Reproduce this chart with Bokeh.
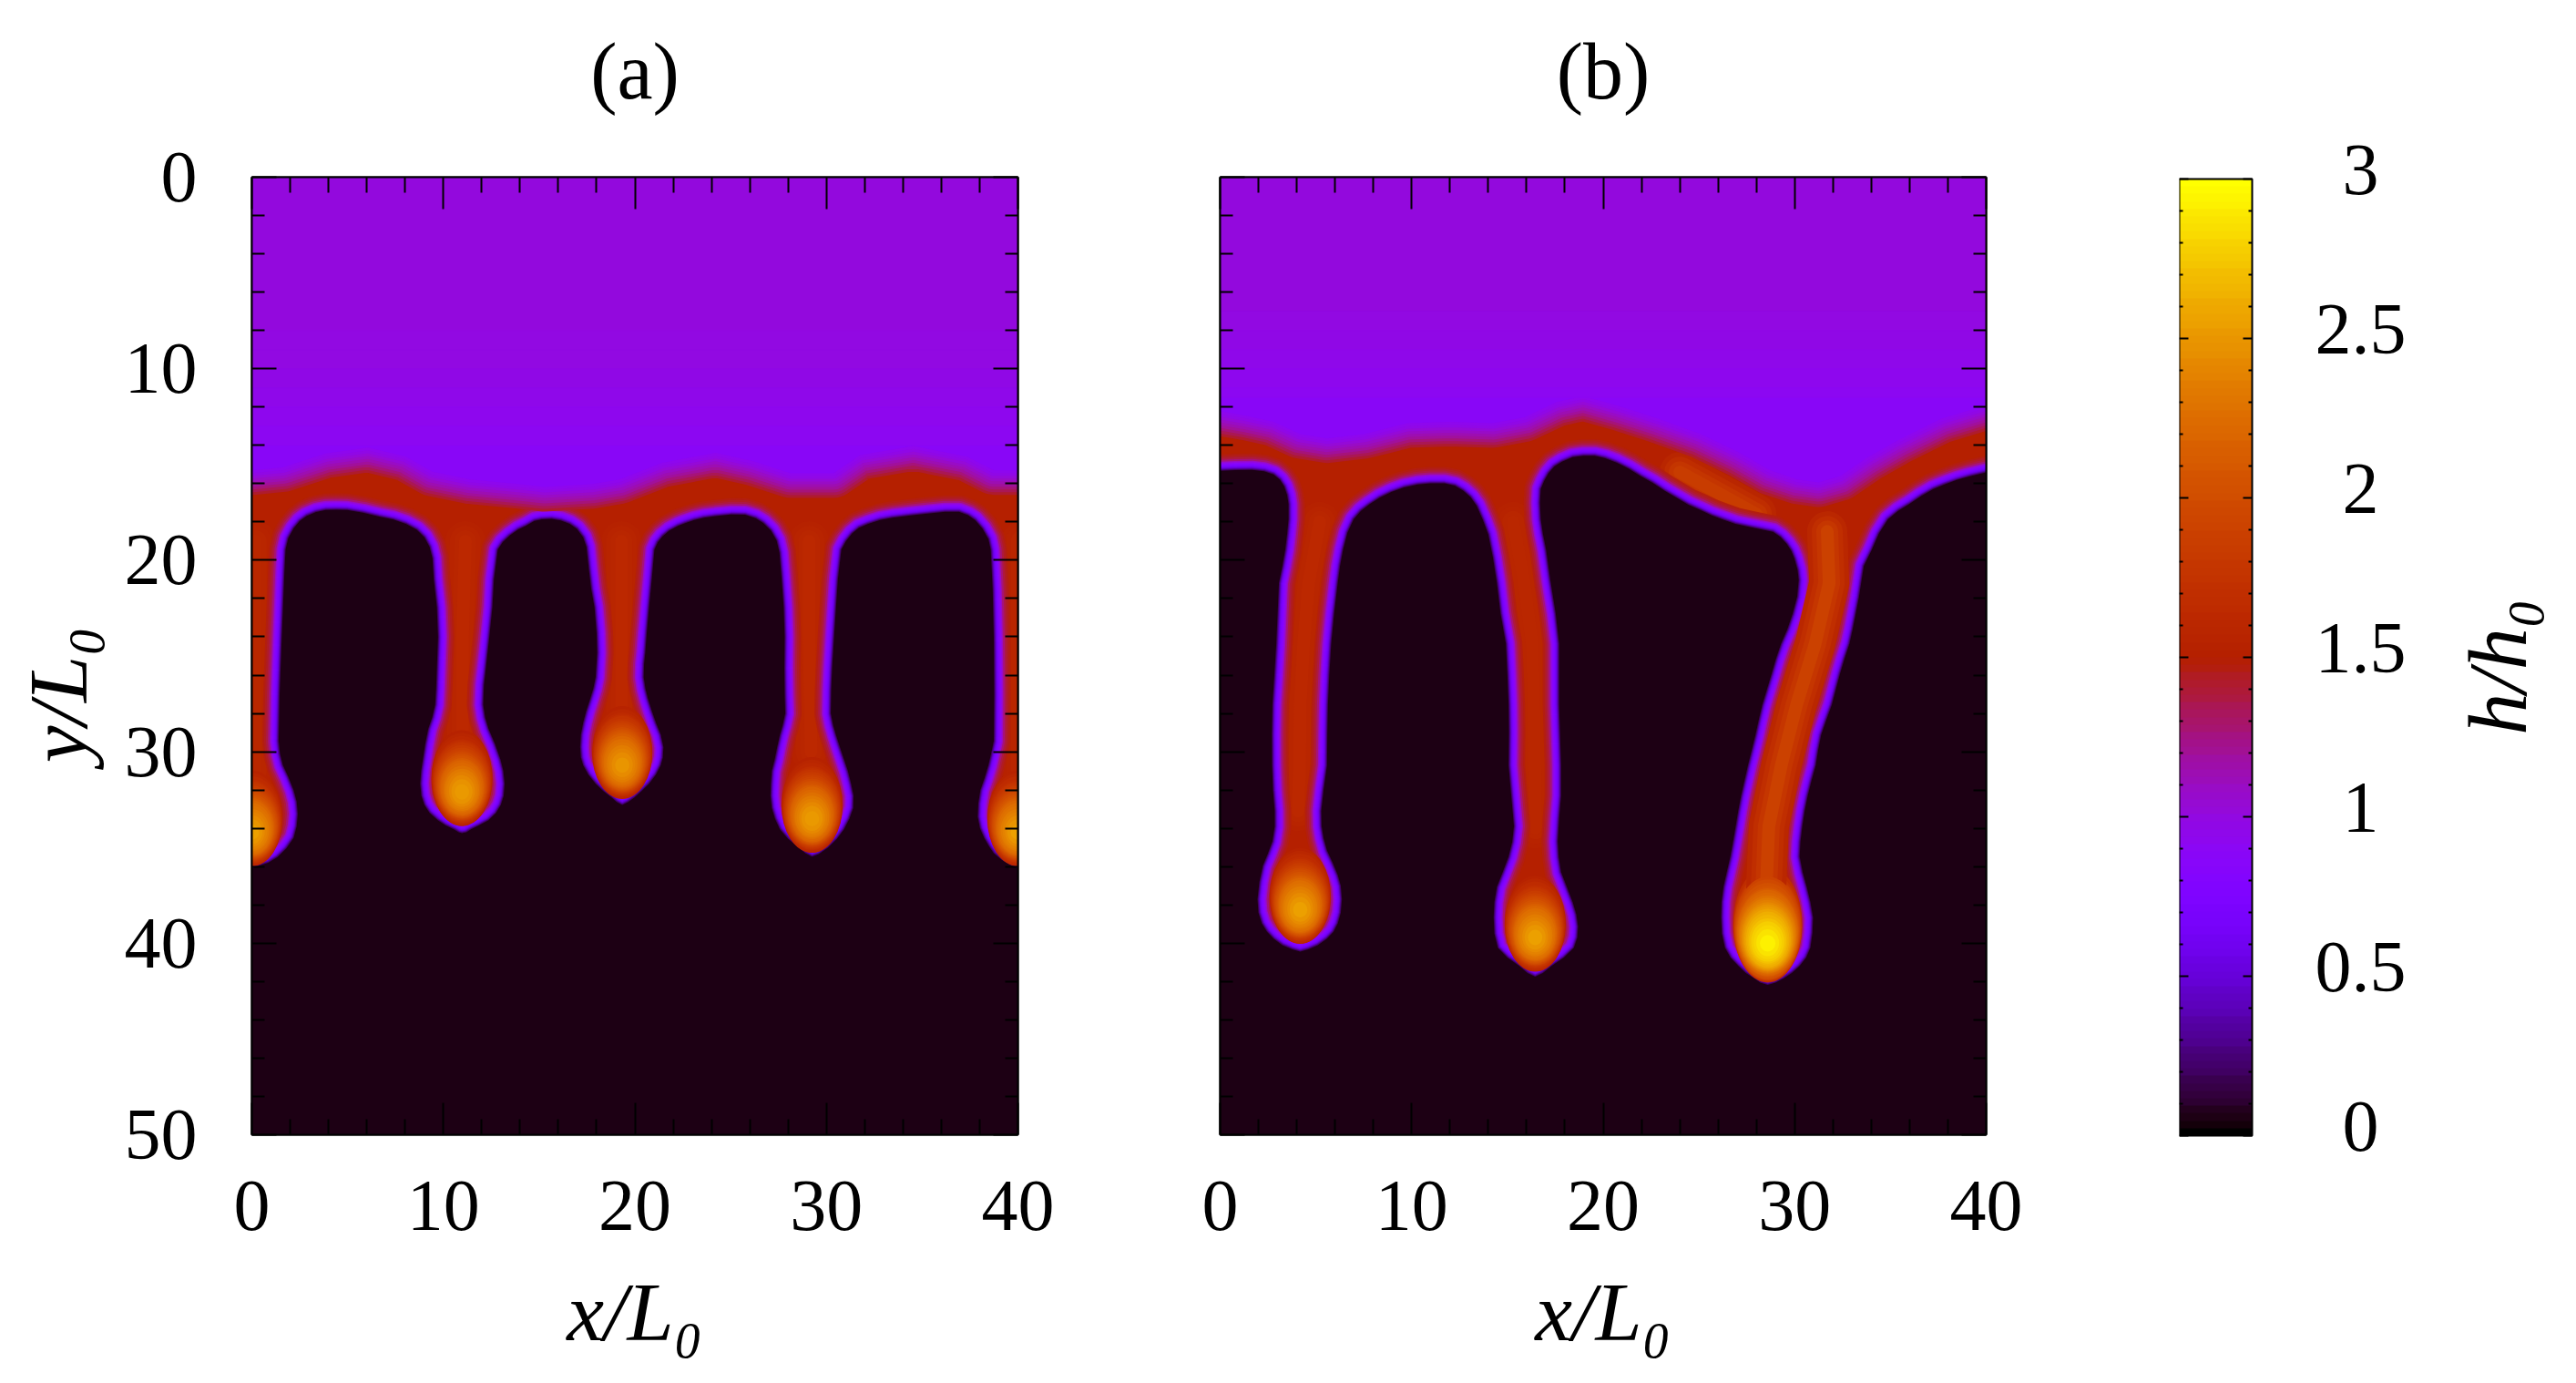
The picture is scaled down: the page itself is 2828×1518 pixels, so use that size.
import math
import numpy as np
from bokeh.embed import file_html
from bokeh.resources import INLINE
from bokeh.layouts import column, row
from bokeh.models import (ColumnDataSource, FixedTicker, Label, LinearAxis, LinearColorMapper, Range1d)
from bokeh.plotting import figure

# ---------- chart values ----------
x_ticks = [0, 10, 20, 30, 40]
x_minor = [2, 4, 6, 8, 12, 14, 16, 18, 22, 24, 26, 28, 32, 34, 36, 38]
y_ticks = [0, 10, 20, 30, 40, 50]
y_minor = [2, 4, 6, 8, 12, 14, 16, 18, 22, 24, 26, 28, 32, 34, 36, 38, 42, 44, 46, 48]
cb_ticks = [0, 0.5, 1, 1.5, 2, 2.5, 3]
cb_tick_labels = ["0", "0.5", "1", "1.5", "2", "2.5", "3"]
cb_minor = [0.1, 0.2, 0.3, 0.4, 0.6, 0.7, 0.8, 0.9, 1.1, 1.2, 1.3, 1.4, 1.6, 1.7, 1.8, 1.9, 2.1, 2.2, 2.3, 2.4, 2.6, 2.7, 2.8, 2.9]

# film height above the front: row edges in y and h/h0 in each row
a_row_y = [0, 8, 9, 10, 11, 12, 13, 14]
a_row_h = [1.0, 0.99, 0.98, 0.97, 0.95, 0.93, 0.91]
b_row_y = [0, 7, 8, 9, 10, 11, 11.5]
b_row_h = [1.0, 0.99, 0.97, 0.95, 0.93, 0.91]

# contour (h about 1.4) along the top of the capillary ridge
a_ridge_x = [-1, 0, 1.62, 3.85, 6.08, 8.04, 9.43, 11.39, 13.9, 15.3, 17.8, 19.2, 21.43, 24.22, 26.18, 28.13, 30.37, 31.76, 34.55, 37.34, 38.74, 40, 41]
a_ridge_y = [16.6, 16.6, 16.44, 15.72, 15.41, 15.88, 16.67, 17.07, 17.31, 17.47, 17.31, 17.07, 16.2, 15.68, 16.12, 16.75, 16.75, 15.8, 15.33, 15.88, 16.6, 16.6, 16.6]
b_ridge_x = [-1, 0, 1.39, 2.79, 4.18, 5.58, 7.53, 9.76, 11.99, 14.23, 15.9, 17.57, 18.97, 20.92, 22.87, 25.1, 27.06, 28.73, 30.13, 31.24, 32.36, 33.75, 35.42, 37.66, 40, 41]
b_ridge_y = [13.51, 13.51, 13.75, 14.06, 14.7, 14.93, 14.7, 14.14, 14.06, 14.14, 13.82, 13.03, 12.72, 13.27, 13.9, 14.7, 15.65, 16.6, 17.07, 17.23, 16.91, 15.96, 15.01, 13.9, 13.19, 13.19]

# edge of the wet region (x, y), running from the left side to the right side
a_front = [(-1,36.1),(0,36.1),(0.36,35.95),(0.85,35.8),(1.34,35.5),(1.8,35.05),(2.18,34.5),(2.34,33.9),(2.40,33.25),(2.34,32.6),(2.18,32.0),(1.9,31.3),(1.62,30.7),(1.47,30.1),(1.40,29.44),(1.45,27),(1.56,24.05),(1.62,22.6),(1.7,20.6),(1.76,19.45),(1.9,18.85),(2.18,18.34),(2.5,17.95),(2.87,17.68),(3.35,17.48),(3.85,17.38),(4.4,17.36),(4.97,17.38),(5.8,17.52),(6.64,17.72),(7.4,17.88),(8.04,18.1),(8.6,18.4),(9.01,18.8),(9.28,19.3),(9.43,19.9),(9.5,21),(9.66,22.46),(9.72,24),(9.66,25.63),(9.62,26.7),(9.57,27.54),(9.42,28.2),(9.21,28.8),(9.05,29.6),(8.93,30.4),(8.84,31.0),(8.79,31.67),(8.85,32.3),(9.01,32.78),(9.28,33.2),(9.71,33.57),(10.12,33.85),(10.55,34.05),(10.8,34.2),(10.97,34.25),(11.2,34.2),(11.44,34.05),(11.85,33.85),(12.36,33.57),(12.75,33.2),(13.0,32.78),(13.15,32.3),(13.2,31.67),(13.13,31.0),(12.98,30.4),(12.7,29.6),(12.36,28.8),(12.18,28.2),(12.08,27.54),(12.12,26.5),(12.22,25.63),(12.4,24),(12.56,22.46),(12.64,21),(12.84,19.45),(13.1,19.05),(13.48,18.7),(13.9,18.4),(14.32,18.2),(14.75,17.95),(15.15,17.86),(15.65,17.84),(16.13,17.92),(16.6,18.1),(16.97,18.36),(17.3,18.8),(17.47,19.3),(17.6,20.5),(17.72,21.5),(17.89,22.46),(18.0,23.8),(18.03,24.84),(17.95,26.11),(17.83,26.7),(17.67,27.22),(17.45,27.9),(17.3,28.49),(17.18,29.1),(17.14,29.76),(17.18,30.3),(17.3,30.71),(17.57,31.2),(17.95,31.67),(18.35,32.05),(18.78,32.38),(19.05,32.62),(19.34,32.78),(19.65,32.62),(19.98,32.38),(20.35,32.05),(20.74,31.67),(21.1,31.2),(21.35,30.71),(21.46,30.3),(21.49,29.76),(21.35,29.1),(21.1,28.49),(20.88,27.85),(20.68,27.22),(20.55,26.7),(20.46,26.11),(20.48,25.4),(20.54,24.84),(20.62,23.8),(20.74,22.46),(20.88,21),(21.02,19.45),(21.2,19.05),(21.44,18.75),(21.8,18.45),(22.27,18.2),(22.65,18.05),(23.1,17.9),(23.6,17.78),(24.2,17.7),(25.0,17.62),(25.76,17.63),(26.3,17.8),(26.7,18.05),(27.1,18.45),(27.4,18.97),(27.55,19.6),(27.65,20.8),(27.77,22.46),(27.82,24),(27.8,25.63),(27.82,27),(27.85,28.0),(27.72,28.6),(27.57,29.13),(27.42,29.8),(27.3,30.4),(27.15,31.0),(27.1,31.67),(27.08,32.3),(27.15,32.94),(27.32,33.5),(27.57,34.05),(28.0,34.55),(28.55,35.0),(28.9,35.3),(29.25,35.48),(29.6,35.35),(30.09,35.0),(30.55,34.55),(30.92,34.05),(31.2,33.5),(31.4,32.94),(31.42,32.3),(31.29,31.67),(31.12,31.0),(30.92,30.4),(30.7,29.75),(30.5,29.13),(30.35,28.6),(30.23,28.0),(30.25,26.8),(30.3,25.63),(30.4,24),(30.5,22.46),(30.6,21),(30.78,19.45),(31.02,19.0),(31.34,18.6),(31.7,18.3),(32.18,18.1),(32.8,17.9),(33.44,17.78),(34.4,17.66),(35.39,17.55),(36.2,17.47),(36.92,17.47),(37.4,17.65),(37.76,17.9),(38.15,18.35),(38.46,18.9),(38.58,19.45),(38.68,21.5),(38.74,24.05),(38.76,27),(38.74,29.44),(38.6,30.1),(38.46,30.7),(38.25,31.4),(38.04,32.0),(37.93,32.7),(37.9,33.4),(38.02,34.0),(38.24,34.5),(38.5,34.95),(38.74,35.3),(39.15,35.65),(39.57,35.9),(40,36.1),(41,36.1),(41,51),(-1,51),(-1,36.1)]
b_front = [(-1,15.33),(0,15.33),(0.8,15.3),(1.67,15.28),(2.3,15.35),(2.79,15.52),(3.12,15.8),(3.35,16.15),(3.5,16.6),(3.57,17.07),(3.57,17.86),(3.5,18.6),(3.40,19.45),(3.25,20.3),(3.07,21.19),(3.0,22.8),(2.93,24.36),(2.83,26),(2.73,27.54),(2.7,29.1),(2.71,30.71),(2.76,32),(2.85,33.1),(2.85,33.9),(2.73,34.68),(2.5,35.3),(2.23,35.95),(2.05,36.8),(1.95,37.7),(2.0,38.4),(2.18,38.97),(2.45,39.4),(2.79,39.76),(3.25,40.1),(3.77,40.32),(4.18,40.44),(4.6,40.32),(5.1,40.1),(5.58,39.76),(5.92,39.4),(6.14,38.97),(6.3,38.4),(6.36,37.7),(6.3,37.0),(6.14,36.43),(5.88,35.8),(5.58,35.16),(5.4,34.5),(5.3,33.89),(5.28,33.1),(5.4,32),(5.58,30.71),(5.6,29),(5.63,27.54),(5.7,26),(5.8,24.36),(5.95,22.8),(6.14,21.19),(6.26,20.3),(6.42,19.45),(6.65,18.55),(6.97,17.86),(7.35,17.42),(7.81,17.07),(8.35,16.72),(8.93,16.44),(9.6,16.2),(10.32,16.04),(11.0,15.98),(11.72,15.99),(12.25,16.1),(12.69,16.36),(13.07,16.7),(13.39,17.15),(13.72,17.9),(14.0,18.65),(14.25,19.9),(14.45,21.19),(14.64,22.78),(14.92,24.36),(15.0,26),(15.06,27.54),(15.08,29),(15.06,30.71),(15.2,32.3),(15.34,33.89),(15.25,34.7),(15.06,35.48),(14.75,36.3),(14.45,37.06),(14.32,37.85),(14.28,38.65),(14.32,39.5),(14.5,40.24),(15.0,40.75),(15.62,41.19),(16.05,41.55),(16.45,41.75),(16.85,41.55),(17.3,41.19),(17.95,40.75),(18.47,40.24),(18.65,39.7),(18.69,39.13),(18.6,38.5),(18.41,37.86),(18.1,37.05),(17.8,36.27),(17.68,35.5),(17.63,34.68),(17.7,33.5),(17.8,32.3),(17.8,30.71),(17.75,29.1),(17.7,27.54),(17.7,24.36),(17.52,22.78),(17.24,21.03),(17.02,19.45),(16.85,18.6),(16.74,17.86),(16.7,17.0),(16.74,16.28),(16.92,15.85),(17.15,15.45),(17.45,15.1),(17.85,14.85),(18.4,14.62),(18.97,14.54),(19.55,14.54),(20.08,14.66),(20.7,14.9),(21.34,15.22),(21.95,15.6),(22.59,15.96),(23.22,16.38),(23.85,16.75),(24.45,17.1),(25.1,17.39),(25.65,17.65),(26.22,17.86),(26.9,18.1),(27.61,18.26),(28.3,18.4),(28.87,18.52),(29.25,18.78),(29.57,19.13),(29.82,19.5),(29.99,19.92),(30.15,20.5),(30.21,21.03),(30.13,21.9),(29.9,22.78),(29.62,23.6),(29.29,24.36),(29.02,25.15),(28.79,25.95),(28.55,26.75),(28.31,27.54),(28.12,28.35),(27.95,29.13),(27.75,29.95),(27.56,30.71),(27.38,31.5),(27.2,32.3),(27.05,33.1),(26.92,33.89),(26.78,34.7),(26.64,35.48),(26.45,36.3),(26.28,37.06),(26.18,37.85),(26.16,38.65),(26.2,39.5),(26.36,40.24),(26.65,40.75),(27.06,41.19),(27.45,41.55),(27.89,41.83),(28.2,42.05),(28.59,42.17),(29.0,42.05),(29.43,41.83),(29.85,41.55),(30.26,41.19),(30.6,40.75),(30.82,40.24),(30.93,39.45),(30.96,38.65),(30.82,37.85),(30.63,37.06),(30.42,36.3),(30.26,35.48),(30.3,34.7),(30.4,33.89),(30.52,33.1),(30.68,32.3),(30.88,31.5),(31.1,30.71),(31.22,29.95),(31.38,29.13),(31.65,28.35),(31.94,27.54),(32.15,26.75),(32.36,25.95),(32.6,25.15),(32.86,24.36),(33.03,23.6),(33.19,22.78),(33.35,21.95),(33.47,21.19),(33.61,20.3),(34.03,19.45),(34.4,18.6),(34.87,17.86),(35.4,17.42),(35.98,17.07),(36.6,16.65),(37.24,16.28),(37.85,16.03),(38.49,15.8),(39.2,15.6),(40,15.41),(41,15.41),(41,51),(-1,51),(-1,15.33)]

# ridge of each finger: centre lines and the largest h/h0 along them
a_core_x = [[-1, 0.2, 0.2], [11.15, 11.0, 11.0], [19.3, 19.3, 19.3], [29.1, 29.1, 29.2], [40.2, 40.2, 41]]
a_core_y = [[19, 19, 31], [19, 24, 29], [19, 23, 28], [19, 24, 30], [31, 19, 19]]
a_core_peak = [1.6, 1.62, 1.62, 1.62, 1.6]
a_core_late = []
b_core_x = [[5.2, 4.62, 4.36, 4.18, 4.15, 4.07], [15.3, 15.85, 16.3, 16.38, 16.43, 16.48], [31.7, 31.8, 31.07, 30.1, 29.3, 28.65, 28.5], [24.0, 26.2, 28.0]]
b_core_y = [[18, 21.2, 24.36, 27.54, 30.71, 33.1], [18, 21, 24.4, 27.5, 30.7, 34], [18.5, 21.2, 24.36, 27.54, 30.71, 33.89, 37.5], [15.4, 16.6, 17.6]]
b_core_peak = [1.62, 1.6, 1.9, 1.85]
b_core_late = [2]

# drops: position of the h/h0 maximum, the maximum, relative size
a_drop_x = [0, 10.97, 19.34, 29.25, 40]
a_drop_y = [34.2, 32.1, 30.7, 33.5, 34.2]
a_drop_peak = [2.6, 2.58, 2.55, 2.58, 2.6]
a_drop_size = [1, 1, 1, 1, 1]
b_drop_x = [4.18, 16.45, 28.59]
b_drop_y = [38.25, 39.7, 40.0]
b_drop_peak = [2.6, 2.6, 2.98]
b_drop_size = [1, 1, 1.08]
# contours below the maximum: drop in h/h0, width, height, shift of centre
drop_dh = [1.3, 1.2, 1.1, 1.05, 1.0, 0.95, 0.9, 0.85, 0.8, 0.75, 0.7, 0.65, 0.6, 0.55, 0.5, 0.45, 0.4, 0.35, 0.3, 0.25, 0.2, 0.15, 0.1, 0.05]
drop_w = [3.35, 3.3, 3.25, 3.2, 3.15, 3.1, 3.05, 3.0, 2.95, 2.88, 2.8, 2.73, 2.65, 2.55, 2.45, 2.35, 2.25, 2.1, 1.95, 1.8, 1.6, 1.35, 1.1, 0.75]
drop_l = [5.6, 5.3, 5.1, 5.0, 4.85, 4.65, 4.4, 4.27, 4.15, 3.97, 3.8, 3.65, 3.5, 3.35, 3.2, 3.05, 2.9, 2.7, 2.45, 2.2, 1.95, 1.65, 1.3, 0.8]
drop_s = [0.9, 0.8, 0.75, 0.72, 0.66, 0.6, 0.55, 0.52, 0.5, 0.46, 0.42, 0.38, 0.35, 0.31, 0.28, 0.25, 0.22, 0.18, 0.15, 0.11, 0.08, 0.05, 0.02, 0.0]

# cross-section beyond the wet edge: pixels from the edge and h/h0
halo_px = [18, 16, 14, 12, 10, 9, 8, 7, 6, 5, 4, 3, 2, 1, 0]
halo_h = [1.47, 1.44, 1.38, 1.26, 1.1, 1.0, 0.9, 0.82, 0.75, 0.68, 0.6, 0.47, 0.33, 0.2, 0.047]
# cross-section across the top of the ridge, highest first
ridge_px = [27, 24, 21, 18, 15, 12, 9, 6, 3, 0]
ridge_h = [1.42, 1.34, 1.27, 1.2, 1.14, 1.08, 1.02, 0.97, 0.92, 0.88]
ridge_span = 1.29
base_h = 1.5
core_px = [44, 34, 24, 14]
core_frac = [0.25, 0.5, 0.75, 1.0]

# ---------- style ----------
FONT = "Liberation Serif"
TICK_SIZE = "80px"
LABEL_SIZE = "92px"
TITLE_SIZE = "88px"
TOP_BORDER = 194
HEAD_H = 134
SIDE_W = 120
PAGE_H = 1510

# gnuplot's default pm3d map: sqrt(t), t^3, sin(2 pi t)
palette = []
for t in np.linspace(0, 1, 160):
    r, g, b = math.sqrt(t), t ** 3, max(0.0, math.sin(2 * math.pi * t))
    palette.append("#%02x%02x%02x" % (round(255 * r), round(255 * g), round(255 * b)))
mapper = LinearColorMapper(palette=palette, low=0, high=3)
val = {"field": "h", "transform": mapper}


def axis_style(ax, in_major, in_minor, labels):
    ax.axis_line_color = "black"
    ax.axis_line_width = 2
    ax.major_tick_line_color = "black"
    ax.minor_tick_line_color = "black"
    ax.major_tick_line_width = 2
    ax.minor_tick_line_width = 2
    ax.major_tick_in = in_major
    ax.major_tick_out = 0
    ax.minor_tick_in = in_minor
    ax.minor_tick_out = 0
    ax.major_label_text_font = FONT
    ax.major_label_text_font_size = TICK_SIZE
    ax.major_label_text_color = "black"
    if not labels:
        ax.major_label_overrides = {v: "" for v in list(ax.ticker.ticks)}


def draw_core(p, core_x, core_y, core_peak):
    xs, ys, hs, ws = [], [], [], []
    for f, w in zip(core_frac, core_px):
        for cx, cy, pk in zip(core_x, core_y, core_peak):
            xs.append(cx)
            ys.append(cy)
            hs.append(base_h + (pk - base_h) * f)
            ws.append(w)
    p.multi_line("xs", "ys", source=ColumnDataSource(dict(xs=xs, ys=ys, h=hs, w=ws)),
                 line_color=val, line_width="w", line_join="round", line_cap="round")


def draw_drops(p, levels, drop_x, drop_y, drop_peak, drop_size, low, high):
    ex, ey, ew, el, eh = [], [], [], [], []
    for dh, w, l, s in levels:
        for x, y, pk, sz in zip(drop_x, drop_y, drop_peak, drop_size):
            if not (low <= pk - dh < high):
                continue
            ex.append(x)
            ey.append(y - s * sz)
            ew.append(w * sz)
            el.append(l * sz)
            eh.append(pk - dh)
    p.ellipse("x", "y", width="w", height="l", source=ColumnDataSource(dict(x=ex, y=ey, w=ew, l=el, h=eh)),
              fill_color=val, line_color=None)


def text_strip(frame_w, frame_h, left_border, right_border, x_end, y_end):
    """A plain figure with no axes, which only holds text placed in its own frame."""
    s = figure(frame_width=frame_w, frame_height=frame_h, min_border_left=left_border, min_border_right=right_border,
               min_border_top=0, min_border_bottom=0, x_range=Range1d(0, x_end), y_range=Range1d(0, y_end),
               output_backend="svg", toolbar_location=None)
    s.frame_align = False
    s.grid.visible = False
    s.axis.visible = False
    s.outline_line_color = None
    return s


def panel(row_y, row_h, ridge_x, ridge_y, front, core_x, core_y, core_peak, core_late,
          drop_x, drop_y, drop_peak, drop_size, left_border, right_border, with_y):
    assert len(ridge_x) == len(ridge_y)
    front_x = [q[0] for q in front]
    front_y = [q[1] for q in front]
    p = figure(frame_width=841, frame_height=1051, min_border_left=left_border, min_border_right=right_border,
               min_border_top=TOP_BORDER - HEAD_H, min_border_bottom=264, x_range=Range1d(0, 40), y_range=Range1d(50, 0),
               output_backend="svg", toolbar_location=None)
    p.frame_align = False
    p.grid.visible = False
    p.outline_line_color = "black"
    p.outline_line_width = 2
    p.background_fill_color = "white"

    # wet film
    p.quad(left=-1, right=41, top=-1, bottom=51, fill_color=palette[int(base_h / 3 * 160)], line_color=None)
    draw_core(p, core_x, core_y, core_peak)

    # broad part of the wet edge, stays under the dry-side film
    broad = [i for i, h in enumerate(halo_h) if h >= 1.0]
    narrow = [i for i, h in enumerate(halo_h) if h < 1.0]
    src = ColumnDataSource(dict(xs=[front_x] * len(broad), ys=[front_y] * len(broad),
                                h=[halo_h[i] for i in broad], w=[2 * halo_px[i] for i in broad]))
    p.patches("xs", "ys", source=src, fill_color=val, line_color=val, line_width="w", line_join="round")

    # ridge top: region above the contour, widened by the stroke
    rx = ridge_x + [41, -1]
    ry = [y - ridge_span for y in ridge_y] + [-1, -1]
    n = len(ridge_px)
    src = ColumnDataSource(dict(xs=[rx] * n, ys=[ry] * n, h=ridge_h, w=[2 * d for d in ridge_px]))
    p.patches("xs", "ys", source=src, fill_color=val, line_color=val, line_width="w", line_join="round")

    # film rows
    p.quad(left=-1, right=41, top="t", bottom="b", fill_color=val, line_color=val, line_width=1,
           source=ColumnDataSource(dict(t=row_y[:-1], b=row_y[1:], h=row_h)))

    # narrow part of the wet edge
    src = ColumnDataSource(dict(xs=[front_x] * len(narrow), ys=[front_y] * len(narrow),
                                h=[halo_h[i] for i in narrow], w=[2 * halo_px[i] for i in narrow]))
    p.patches("xs", "ys", source=src, fill_color=val, line_color=val, line_width="w", line_join="round")

    # drops; a strong finger ridge runs over the lowest contours of its drop
    levels = list(zip(drop_dh, drop_w, drop_l, drop_s))
    draw_drops(p, levels, drop_x, drop_y, drop_peak, drop_size, 1.52, 1.9)
    if core_late:
        draw_core(p, [core_x[i] for i in core_late], [core_y[i] for i in core_late], [core_peak[i] for i in core_late])
    draw_drops(p, levels, drop_x, drop_y, drop_peak, drop_size, 1.9, 9)

    # axes
    p.xaxis.ticker = FixedTicker(ticks=x_ticks, minor_ticks=x_minor)
    p.yaxis.ticker = FixedTicker(ticks=y_ticks, minor_ticks=y_minor)
    top = LinearAxis(ticker=FixedTicker(ticks=x_ticks, minor_ticks=x_minor))
    right = LinearAxis(ticker=FixedTicker(ticks=y_ticks, minor_ticks=y_minor))
    p.add_layout(top, "above")
    p.add_layout(right, "right")
    axis_style(top, 35, 17, False)
    axis_style(p.below[0], 35, 17, True)
    axis_style(p.left[0], 27, 14, with_y)
    axis_style(right, 27, 14, False)
    p.below[0].major_label_standoff = 51
    p.left[0].major_label_standoff = 60
    top.major_label_standoff = 0
    right.major_label_standoff = 0
    p.below[0].axis_label = "x/L\u2080"
    p.below[0].axis_label_text_font = FONT
    p.below[0].axis_label_text_font_size = LABEL_SIZE
    p.below[0].axis_label_text_font_style = "italic"
    p.below[0].axis_label_text_color = "black"
    p.below[0].axis_label_standoff = 36
    return p


def heading(text, left_border, right_border):
    s = text_strip(841, HEAD_H, left_border, right_border, 1, HEAD_H)
    s.add_layout(Label(x=0.5, y=HEAD_H - 78, text=text, text_font=FONT, text_font_size=TITLE_SIZE, text_align="center",
                       text_baseline="middle", text_color="black"))
    return s


p1 = panel(a_row_y, a_row_h, a_ridge_x, a_ridge_y, a_front, a_core_x, a_core_y, a_core_peak, a_core_late,
           a_drop_x, a_drop_y, a_drop_peak, a_drop_size, 276 - SIDE_W, 122, True)
p2 = panel(b_row_y, b_row_h, b_ridge_x, b_ridge_y, b_front, b_core_x, b_core_y, b_core_peak, b_core_late,
           b_drop_x, b_drop_y, b_drop_peak, b_drop_size, 100, 100, False)
h1 = heading("(a)", 276 - SIDE_W, 122)
h2 = heading("(b)", 100, 100)

# y axis title, in a strip of its own at the far left
side = text_strip(SIDE_W, PAGE_H, 0, 0, SIDE_W, PAGE_H)
side.add_layout(Label(x=63, y=PAGE_H - 762, text="y/L\u2080", angle=math.pi / 2, text_font=FONT,
                      text_font_size=LABEL_SIZE, text_font_style="italic", text_align="center",
                      text_baseline="middle", text_color="black"))

# colour bar: frame also holds its texts; x counts pixels from the bar's left edge, y is h/h0
BAR_W, MAJOR, MINOR = 80, 10, 4
PAD = 0.3
cb = figure(frame_width=428, frame_height=1260, min_border_left=112, min_border_right=0,
            min_border_top=TOP_BORDER + 2 - 105, min_border_bottom=264 - 105, x_range=Range1d(0, 428),
            y_range=Range1d(-PAD, 3 + PAD), output_backend="svg", toolbar_location=None)
cb.frame_align = False
cb.grid.visible = False
cb.outline_line_color = None
cb.axis.visible = False
ramp = np.linspace(0, 3, 128).reshape(128, 1)
cb.image(image=[ramp], x=0, y=0, dw=BAR_W, dh=3, color_mapper=mapper)
cb.quad(left=0, right=BAR_W, bottom=0, top=3, fill_color=None, line_color="black", line_width=2)
for vals, length in ((cb_ticks, MAJOR), (cb_minor, MINOR)):
    cb.segment(x0=0, x1=length, y0=vals, y1=vals, line_color="black", line_width=2)
    cb.segment(x0=BAR_W - length, x1=BAR_W, y0=vals, y1=vals, line_color="black", line_width=2)
for v, s in zip(cb_ticks, cb_tick_labels):
    cb.add_layout(Label(x=199, y=v, text=s, text_font=FONT, text_font_size=TICK_SIZE, text_align="center",
                        text_baseline="middle", text_color="black", y_offset=10))
cb.add_layout(Label(x=349, y=1.47, text="h/h\u2080", angle=math.pi / 2, text_font=FONT, text_font_size=LABEL_SIZE,
                    text_font_style="italic", text_align="center", text_baseline="middle", text_color="black"))

page = row(side, column(h1, p1, spacing=0), column(h2, p2, spacing=0), cb, spacing=0)
open("out.html", "w").write(file_html(page, INLINE))
